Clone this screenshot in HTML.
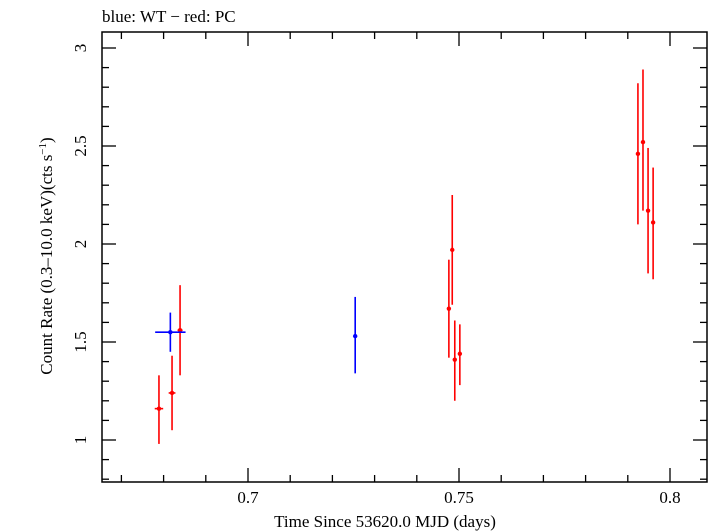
<!DOCTYPE html>
<html><head><meta charset="utf-8"><style>
body{margin:0;background:#fff;}
svg{display:block;font-family:"Liberation Serif",serif;}
</style></head><body>
<svg id="c" width="709" height="532"></svg>
<script>
const blueT=[0.6816,0.7254];
const blueY=[1.55,1.53];
const blueLo=[1.45,1.34];
const blueHi=[1.65,1.73];
const blueXerr=[0.0036,0.0003];
const redT=[0.6789,0.6820,0.6839,0.7476,0.7484,0.7490,0.7502,0.7924,0.7936,0.7948,0.7960];
const redY=[1.16,1.24,1.56,1.67,1.97,1.41,1.44,2.46,2.52,2.17,2.11];
const redLo=[0.98,1.05,1.33,1.42,1.69,1.20,1.28,2.10,2.17,1.85,1.82];
const redHi=[1.33,1.43,1.79,1.92,2.25,1.61,1.59,2.82,2.89,2.49,2.39];
const redXerr=[0.0010,0.0008,0.0006,0.0003,0.0003,0.0003,0.0003,0.0003,0.0003,0.0003,0.0003];
const xTicks=[0.7,0.75,0.8];
const yTicks=[1,1.5,2,2.5,3];
const L=102,R=707,T=32,B=482;
const x=t=>248+(t-0.7)*4220;
const y=v=>440-(v-1)*196;
const svg=document.getElementById('c');
const NS='http://www.w3.org/2000/svg';
function mk(tag,a,p){const e=document.createElementNS(NS,tag);for(const k in a)e.setAttribute(k,a[k]);(p||svg).appendChild(e);return e;}
const frame=mk('rect',{x:L,y:T,width:R-L,height:B-T,fill:'none',stroke:'#000','stroke-width':1.5});


// x minor/major ticks
for(let i=66;i<=81;i++){const t=i/100;const px=x(t);if(px<L||px>R)continue;const maj=i%5==0;const len=maj?14:7;
mk('line',{x1:px,x2:px,y1:B,y2:B-len,stroke:'#000','stroke-width':1.3});
mk('line',{x1:px,x2:px,y1:T,y2:T+len,stroke:'#000','stroke-width':1.3});}
for(let i=8;i<=31;i++){const v=i/10;const py=y(v);if(py<T||py>B)continue;const maj=i%5==0;const len=maj?14:7;
mk('line',{x1:L,x2:L+len,y1:py,y2:py,stroke:'#000','stroke-width':1.3});
mk('line',{x1:R,x2:R-len,y1:py,y2:py,stroke:'#000','stroke-width':1.3});}
xTicks.forEach(t=>{const e=mk('text',{x:x(t),y:503,'text-anchor':'middle','font-size':17});e.textContent=String(t);

});
yTicks.forEach(v=>{const e=mk('text',{x:86,y:y(v),'text-anchor':'middle','font-size':17,transform:`rotate(-90 86 ${y(v)})`});e.textContent=String(v);

});
const xt=mk('text',{x:385,y:527,'text-anchor':'middle','font-size':17});xt.textContent='Time Since 53620.0 MJD (days)';


const yt=mk('text',{x:52,y:256,'text-anchor':'middle','font-size':17,transform:'rotate(-90 52 256)'});
yt.innerHTML='Count Rate (0.3\u201310.0 keV)(cts s<tspan dy="-6" font-size="11">\u22121</tspan><tspan dy="6">)</tspan>';


const tt=mk('text',{x:102,y:22,'font-size':17});tt.textContent='blue: WT \u2212 red: PC';


function series(T_,Y,Lo,Hi,Xe,col,name){
const g=mk('g',{});


T_.forEach((t,i)=>{const px=x(t),py=y(Y[i]);
mk('line',{x1:px,x2:px,y1:y(Lo[i]),y2:y(Hi[i]),stroke:col,'stroke-width':1.6},g);
mk('line',{x1:x(t-Xe[i]),x2:x(t+Xe[i]),y1:py,y2:py,stroke:col,'stroke-width':1.6},g);
const c=mk('circle',{cx:px,cy:py,r:2.2,fill:col},g);

});}
series(redT,redY,redLo,redHi,redXerr,'#f00','pc');
series(blueT,blueY,blueLo,blueHi,blueXerr,'#00f','wt');
</script>
</body></html>
